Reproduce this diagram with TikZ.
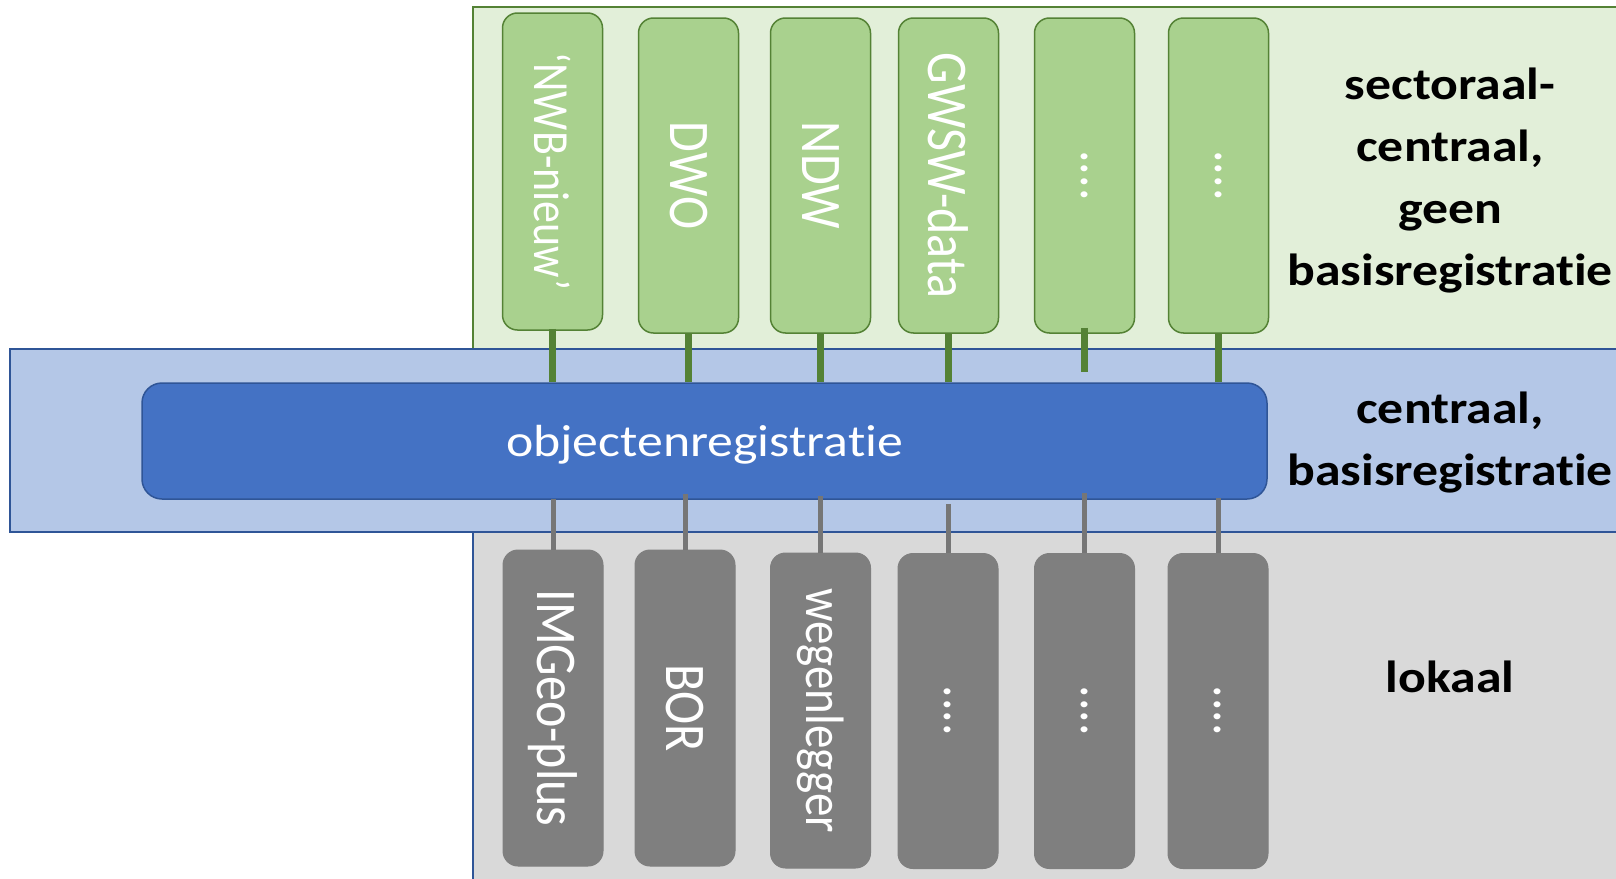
\documentclass[tikz,border=0pt]{standalone}
\usepackage{fontspec}
\setmainfont{Carlito}[Ligatures=NoCommon]
\usepackage{graphicx}
\definecolor{lgreen}{HTML}{E2EFD9}
\definecolor{mgreen}{HTML}{A9D18E}
\definecolor{dgreen}{HTML}{548235}
\definecolor{lblue}{HTML}{B4C7E7}
\definecolor{mblue}{HTML}{4472C4}
\definecolor{dblue}{HTML}{2F5597}
\definecolor{lgray}{HTML}{D9D9D9}
\definecolor{dgray}{HTML}{7F7F7F}
\definecolor{cgray}{HTML}{767676}
\newcommand\vtext[2][50]{\rotatebox{-90}{\scalebox{1}[1.15]{\fontsize{#1}{#1}\selectfont #2}}}
\newcommand\hs[1]{\scalebox{1.15}[1]{#1}}
\begin{document}
\begin{tikzpicture}[x=1pt,y=-1pt,
  panelg/.style={fill=lgreen, draw=dgreen, line width=1.5pt},
  panelb/.style={fill=lblue, draw=dblue, line width=1.5pt},
  panelk/.style={fill=lgray, draw=dblue, line width=1.5pt},
  gbox/.style={draw=dgreen, fill=mgreen, rounded corners=15pt, minimum width=100pt, minimum height=315pt, line width=1.5pt, inner sep=0pt, text=white},
  kbox/.style={draw=dgray, fill=dgray, rounded corners=15pt, minimum width=100pt, minimum height=315pt, line width=1pt, inner sep=0pt, text=white},
  objbox/.style={draw=dblue, fill=mblue, rounded corners=20pt, minimum width=1125pt, minimum height=116pt, line width=1.5pt, inner sep=0pt, text=white, text depth=0pt, font=\fontsize{45}{50}\selectfont},
  lbl/.style={align=center, font=\bfseries\fontsize{45}{62}\selectfont, inner sep=0pt},
  gconn/.style={draw=dgreen, line width=7pt},
  kconn/.style={draw=cgray, line width=5pt}
]
\useasboundingbox (0,0) rectangle (1616,878);
\fill[white] (0,0) rectangle (1616,878);
% panels
\draw[panelg] (473,7) rectangle (1630,349);
\draw[panelk] (473,532) rectangle (1630,890);
\draw[panelb] (10,349) rectangle (1630,532);
% central box
\node[objbox] (obj) at (704.5,441) {\hs{objectenregistratie}};
% top boxes
\node[gbox, minimum height=317pt] (g1) at (552.5,171.5) {\vtext[44]{‘NWB-nieuw’}};
\node[gbox] (g2) at (688.5,175.5) {\vtext{DWO}};
\node[gbox] (g3) at (820.5,175.5) {\vtext{NDW}};
\node[gbox] (g4) at (948.5,175.5) {\vtext{GWSW-data}};
\node[gbox] (g5) at (1084.5,175.5) {\vtext{....}};
\node[gbox] (g6) at (1218.5,175.5) {\vtext{....}};
% bottom boxes
\node[kbox, minimum height=316pt] (k1) at (553,708) {\vtext{IMGeo-plus}};
\node[kbox, minimum height=316pt] (k2) at (685,708) {\vtext{BOR}};
\node[kbox] (k3) at (820.5,710.5) {\vtext[47]{wegenlegger}};
\node[kbox] (k4) at (948,711) {\vtext{....}};
\node[kbox] (k5) at (1084.5,711) {\vtext{....}};
\node[kbox] (k6) at (1218,711) {\vtext{....}};
% labels
\node[lbl] (lsec) at (1450,181) {\hs{sectoraal-}\\\hs{centraal,}\\\hs{geen}\\\hs{basisregistratie}};
\node[lbl] (lcen) at (1450,443) {\hs{centraal,}\\\hs{basisregistratie}};
\node[lbl] (llok) at (1450,677) {\hs{lokaal}};
% connectors top
\draw[gconn, shorten <=-2pt] (g1.south) -- (obj.north -| g1.south);
\draw[gconn] (g2.south) -- (obj.north -| g2.south);
\draw[gconn] (g3.south) -- (obj.north -| g3.south);
\draw[gconn] (g4.south) -- (obj.north -| g4.south);
\draw[gconn, shorten <=-6pt, shorten >=10pt] (g5.south) -- (obj.north -| g5.south);
\draw[gconn] (g6.south) -- (obj.north -| g6.south);
% connectors bottom
\draw[kconn, shorten <=-1pt] (obj.south -| k1.north) -- (k1.north);
\draw[kconn, shorten <=-6pt] (obj.south -| k2.north) -- (k2.north);
\draw[kconn, shorten <=-4pt] (obj.south -| k3.north) -- (k3.north);
\draw[kconn, shorten <=4pt] (obj.south -| k4.north) -- (k4.north);
\draw[kconn, shorten <=-7pt] (obj.south -| k5.north) -- (k5.north);
\draw[kconn, shorten <=-2pt] (obj.south -| k6.north) -- (k6.north);
\end{tikzpicture}
\end{document}
